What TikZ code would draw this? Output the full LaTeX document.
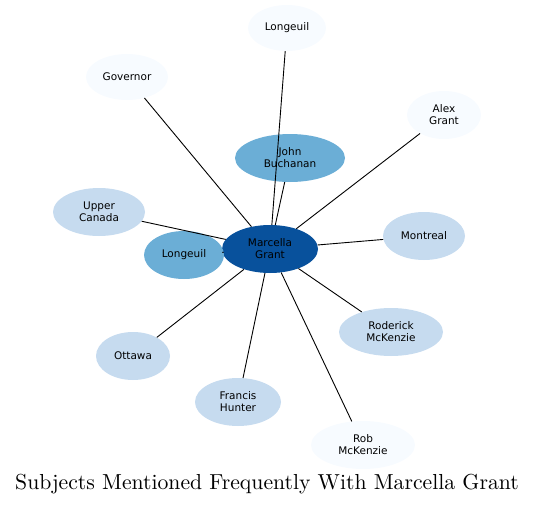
\documentclass[tikz,border=0pt]{standalone}
\usepackage{fontspec}
\setmainfont{Latin Modern Roman}
\newfontfamily\labelfont{DejaVu Sans}
\newfontfamily\titlefont{lmroman10-regular.otf}
\usepackage{xcolor}
\usepackage{tikz}
\usetikzlibrary{shapes.geometric}
\definecolor{hubblue}{HTML}{08519C}
\definecolor{midblue}{HTML}{6BAED6}
\definecolor{paleblue}{HTML}{C6DBEF}
\definecolor{faintblue}{HTML}{F7FBFF}
\tikzstyle{topic} = [ellipse, inner sep=0pt, minimum height=48pt, align=center,
                     font=\labelfont\fontsize{10.5}{12}\selectfont, text=black]
\tikzstyle{link}  = [draw=black, line width=0.9pt]

\begin{document}
\begin{tikzpicture}[x=1pt, y=-1pt]
  \useasboundingbox (0,0) rectangle (535,506);
  \node[topic, fill=hubblue,   minimum width=96pt]  (mg)  at (270,249) {Marcella\\Grant};
  \node[topic, fill=midblue,   minimum width=110pt] (jb)  at (290,158) {John\\Buchanan};
  \node[topic, fill=midblue,   minimum width=80pt]  (lgl) at (184,255) {Longeuil};
  \node[topic, fill=paleblue,  minimum width=92pt]  (uc)  at (99,212)  {Upper\\Canada};
  \node[topic, fill=faintblue, minimum width=82pt, minimum height=46pt] (gov) at (127,77) {Governor};
  \node[topic, fill=faintblue, minimum width=78pt, minimum height=46pt] (lgt) at (287,28) {Longeuil};
  \node[topic, fill=faintblue, minimum width=74pt]  (ag)  at (444,115) {Alex\\Grant};
  \node[topic, fill=paleblue,  minimum width=82pt]  (mtl) at (424,236) {Montreal};
  \node[topic, fill=paleblue,  minimum width=104pt] (rdm) at (391,332) {Roderick\\McKenzie};
  \node[topic, fill=faintblue, minimum width=104pt] (rbm) at (363,445) {Rob\\McKenzie};
  \node[topic, fill=paleblue,  minimum width=86pt]  (fh)  at (238,402) {Francis\\Hunter};
  \node[topic, fill=paleblue,  minimum width=74pt]  (ott) at (133,356) {Ottawa};

  \foreach \t in {jb,lgl,uc,gov,lgt,ag,mtl,rdm,rbm,fh,ott}
    \draw[link] (mg) -- (\t);

  \node[font=\titlefont\fontsize{21.7}{26}\selectfont] (title) at (267,484)
        {Subjects Mentioned Frequently With Marcella Grant};
\end{tikzpicture}
\end{document}
